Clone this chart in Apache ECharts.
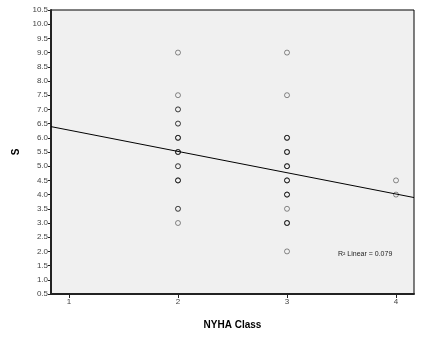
<!DOCTYPE html>
<html>
<head>
<meta charset="utf-8">
<script src="https://cdn.jsdelivr.net/npm/echarts@6/dist/echarts.min.js"></script>
<style>
  html, body { margin: 0; padding: 0; background: #ffffff; }
  #chart { width: 425px; height: 341px; }
</style>
</head>
<body>
<div id="chart"></div>
<script>
// NYHA class of each observation and its S score (repeats are real repeats)
const nyhaClass = [
  2, 2, 2, 2, 2, 2, 2, 2, 2, 2, 2, 2, 2, 2, 2, 2, 2, 2, 2, 2,
  3, 3, 3, 3, 3, 3, 3, 3, 3, 3, 3, 3, 3, 3, 3, 3, 3, 3, 3, 3, 3, 3,
  4, 4
];
const sScore = [
  9.0, 7.5, 7.0, 7.0, 6.5, 6.5, 6.0, 6.0, 6.0, 5.5, 5.5, 5.5, 5.0, 5.0, 4.5, 4.5, 4.5, 3.5, 3.5, 3.0,
  9.0, 7.5, 6.0, 6.0, 6.0, 5.5, 5.5, 5.5, 5.0, 5.0, 5.0, 4.5, 4.5, 4.5, 4.0, 4.0, 4.0, 3.5, 3.0, 3.0, 3.0, 2.0,
  4.5, 4.0
];

// Fitted linear trend S = intercept + slope * class
const fitIntercept = 7.02;
const fitSlope = -0.75;
const rSquaredText = 'R² Linear = 0.079';

// Axis ranges and tick labels
const xRange = [0.835, 4.165];
const xTicks = [1, 2, 3, 4];
const yRange = [0.5, 10.5];
const yStep = 0.5;

const points = nyhaClass.map((c, i) => [c, sScore[i]]);
const fitLine = xRange.map(x => [x, fitIntercept + fitSlope * x]);

const chart = echarts.init(document.getElementById('chart'), null, { renderer: 'canvas' });
const font = 'Arial, "Liberation Sans", sans-serif';

chart.setOption({
  animation: false,
  backgroundColor: '#ffffff',
  grid: {
    left: 51, top: 10, right: 11, bottom: 47,
    show: true,
    backgroundColor: '#f0f0f0',
    borderColor: '#000000',
    borderWidth: 1
  },
  xAxis: {
    type: 'value',
    min: xRange[0],
    max: xRange[1],
    name: 'NYHA Class',
    nameLocation: 'middle',
    nameGap: 26,
    nameTextStyle: { fontFamily: font, fontSize: 10, fontWeight: 'bold', color: '#000' },
    axisLine: { show: true, onZero: false, lineStyle: { color: '#222', width: 2 } },
    axisTick: { show: true, customValues: xTicks, length: 4, lineStyle: { color: '#222', width: 1 } },
    axisLabel: { customValues: xTicks, fontFamily: font, fontSize: 8, color: '#444', margin: 4,
      formatter: v => String(Math.round(v)) },
    splitLine: { show: false }
  },
  yAxis: {
    type: 'value',
    min: yRange[0],
    max: yRange[1],
    interval: yStep,
    name: 'S',
    nameLocation: 'middle',
    nameGap: 27,
    nameTextStyle: { fontFamily: font, fontSize: 10, fontWeight: 'bold', color: '#000' },
    axisLine: { show: true, onZero: false, lineStyle: { color: '#222', width: 2 } },
    axisTick: { show: true, length: 3, lineStyle: { color: '#222', width: 1 } },
    axisLabel: { fontFamily: font, fontSize: 8, color: '#444', margin: 3,
      formatter: v => v.toFixed(1) },
    splitLine: { show: false }
  },
  series: [
    {
      type: 'scatter',
      data: points,
      symbol: 'circle',
      symbolSize: 5,
      itemStyle: { color: 'rgba(240,240,240,0)', borderColor: 'rgba(0,0,0,0.55)', borderWidth: 1 },
      emphasis: { disabled: true },
      z: 3
    },
    {
      type: 'line',
      data: fitLine,
      symbol: 'none',
      silent: true,
      lineStyle: { color: '#000', width: 1 },
      z: 2
    }
  ],
  graphic: [
    {
      type: 'text',
      left: 338,
      top: 251,
      style: { text: rSquaredText, fontFamily: font, fontSize: 7, fill: '#222' }
    }
  ]
});
</script>
</body>
</html>
